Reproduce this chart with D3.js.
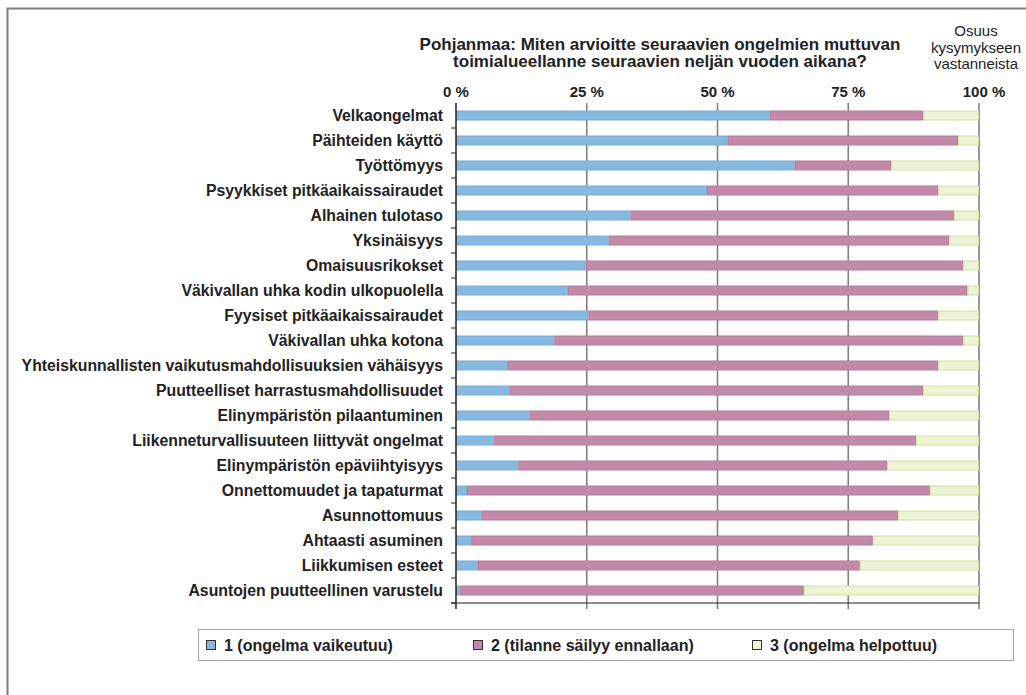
<!DOCTYPE html>
<html>
<head>
<meta charset="utf-8">
<script src="https://cdn.jsdelivr.net/npm/d3@7/dist/d3.min.js"></script>
<style>
  html, body { margin: 0; padding: 0; background: #fff; }
  svg { display: block; font-family: "Liberation Sans", Arial, sans-serif; }
</style>
</head>
<body>
<svg id="chart" width="1026" height="695"></svg>
<script>
  /* Data */
  var categories = [
    'Velkaongelmat', 'Päihteiden käyttö', 'Työttömyys', 'Psyykkiset pitkäaikaissairaudet',
    'Alhainen tulotaso', 'Yksinäisyys', 'Omaisuusrikokset', 'Väkivallan uhka kodin ulkopuolella',
    'Fyysiset pitkäaikaissairaudet', 'Väkivallan uhka kotona',
    'Yhteiskunnallisten vaikutusmahdollisuuksien vähäisyys', 'Puutteelliset harrastusmahdollisuudet',
    'Elinympäristön pilaantuminen', 'Liikenneturvallisuuteen liittyvät ongelmat',
    'Elinympäristön epäviihtyisyys', 'Onnettomuudet ja tapaturmat', 'Asunnottomuus',
    'Ahtaasti asuminen', 'Liikkumisen esteet', 'Asuntojen puutteellinen varustelu'
  ];
  var worsens  = [60.0, 51.9, 64.7, 48.0, 33.4, 29.2, 24.8, 21.4, 25.3, 18.8, 9.8, 10.3, 14.1, 7.2, 11.9, 2.1, 5.0, 2.9, 4.2, 0.8];
  var same     = [29.3, 44.1, 18.5, 44.2, 61.8, 65.1, 72.2, 76.4, 66.9, 78.2, 82.4, 79.0, 68.7, 80.8, 70.5, 88.5, 79.5, 76.8, 73.0, 65.7];
  var improves = [10.7, 4.0, 16.8, 7.8, 4.8, 5.7, 3.0, 2.2, 7.8, 3.0, 7.8, 10.7, 17.2, 12.0, 17.6, 9.4, 15.5, 20.3, 22.8, 33.5];
  var seriesNames = ['1 (ongelma vaikeutuu)', '2 (tilanne säilyy ennallaan)', '3 (ongelma helpottuu)'];
  var tickValues = [0, 25, 50, 75, 100];
  var titleLines = ['Pohjanmaa: Miten arvioitte seuraavien ongelmien muttuvan',
                    'toimialueellanne seuraavien neljän vuoden aikana?'];
  var noteLines = ['Osuus', 'kysymykseen', 'vastanneista'];

  var fills   = ['#87b9e0', '#c28aa8', '#edf3d6'];
  var strokes = ['#7aaed6', '#b67d9c', '#d4e19c'];
  var FONT = 15.8;

  var svg = d3.select('#chart');

  // outer frame (runs off the right and bottom edge)
  svg.append('rect')
    .attr('x', 7.5).attr('y', 8.5).attr('width', 1030).attr('height', 700)
    .attr('fill', 'none').attr('stroke', '#808080').attr('stroke-width', 2);

  var plot = { left: 456, top: 103, right: 979, bottom: 603 };

  var x  = d3.scaleLinear().domain([0, 100]).range([plot.left, plot.right]);
  var y  = d3.scaleBand().domain(categories).range([plot.top, plot.bottom]).paddingInner(0.6).paddingOuter(0.3);
  var yb = d3.scaleBand().domain(categories).range([plot.top, plot.bottom]);

  /* gridlines */
  svg.append('g').selectAll('line')
    .data(tickValues.slice(1))
    .enter().append('line')
    .attr('x1', function (d) { return x(d); }).attr('x2', function (d) { return x(d); })
    .attr('y1', plot.top).attr('y2', plot.bottom + 6)
    .attr('stroke', '#808080').attr('stroke-width', 1.6);

  /* stacked bars */
  var rows = categories.map(function (c, i) {
    return { cat: c, vals: [worsens[i], same[i], improves[i]] };
  });
  var bars = svg.append('g');
  rows.forEach(function (r) {
    var acc = 0;
    r.vals.forEach(function (v, k) {
      bars.append('rect')
        .attr('x', x(acc) + 0.5)
        .attr('y', y(r.cat) + 0.5)
        .attr('width', Math.max(0, x(acc + v) - x(acc) - 1))
        .attr('height', y.bandwidth() - 1)
        .attr('fill', fills[k])
        .attr('stroke', strokes[k]).attr('stroke-width', 1);
      acc += v;
    });
  });

  /* top axis labels */
  svg.append('g').selectAll('text')
    .data(tickValues)
    .enter().append('text')
    .attr('x', function (d) { return x(d) + (d === 100 ? 5 : 0); })
    .attr('y', 97)
    .attr('text-anchor', 'middle')
    .attr('font-size', 15).attr('font-weight', 'bold').attr('fill', '#222')
    .text(function (d) { return d + ' %'; });

  /* category axis */
  var catAxis = d3.axisLeft(yb).tickSize(0).tickPadding(13);
  var gy = svg.append('g').attr('transform', 'translate(' + plot.left + ',0)').call(catAxis);
  gy.select('.domain').remove();
  gy.selectAll('text')
    .attr('font-size', FONT).attr('font-weight', 'bold').attr('fill', '#222')
    .attr('font-family', '"Liberation Sans", Arial, sans-serif');

  // ticks at the category boundaries
  svg.append('g').selectAll('line')
    .data(categories)
    .enter().append('line')
    .attr('x1', plot.left - 5).attr('x2', plot.left)
    .attr('y1', function (d) { return yb(d) + yb.step(); })
    .attr('y2', function (d) { return yb(d) + yb.step(); })
    .attr('stroke', '#222').attr('stroke-width', 1);

  svg.append('line')
    .attr('x1', plot.left).attr('x2', plot.left)
    .attr('y1', plot.top).attr('y2', plot.bottom + 6)
    .attr('stroke', '#222').attr('stroke-width', 1.5);
  svg.append('line')
    .attr('x1', plot.left - 5).attr('x2', plot.right)
    .attr('y1', plot.bottom).attr('y2', plot.bottom)
    .attr('stroke', '#222').attr('stroke-width', 1.2);

  /* title */
  var title = svg.append('text')
    .attr('text-anchor', 'middle').attr('font-size', 17).attr('font-weight', 'bold').attr('fill', '#222');
  titleLines.forEach(function (t, i) {
    title.append('tspan').attr('x', 660).attr('y', 50 + i * 17).text(t);
  });

  var note = svg.append('text')
    .attr('text-anchor', 'middle').attr('font-size', 15).attr('fill', '#222');
  noteLines.forEach(function (t, i) {
    note.append('tspan').attr('x', 976).attr('y', 36 + i * 16.5).text(t);
  });

  /* legend */
  svg.append('rect')
    .attr('x', 198.5).attr('y', 629.5).attr('width', 815).attr('height', 31)
    .attr('fill', '#fff').attr('stroke', '#a6a6a6').attr('stroke-width', 1);
  var legendX = [206, 473, 752];
  var lg = svg.append('g').selectAll('g')
    .data(seriesNames)
    .enter().append('g')
    .attr('transform', function (d, i) { return 'translate(' + legendX[i] + ',645)'; });
  lg.append('rect')
    .attr('x', 0.5).attr('y', -4.5).attr('width', 9).attr('height', 9)
    .attr('fill', function (d, i) { return fills[i]; })
    .attr('stroke', '#333').attr('stroke-width', 1);
  lg.append('text')
    .attr('x', 18).attr('y', 5.5)
    .attr('font-size', 16).attr('font-weight', 'bold').attr('fill', '#222')
    .text(function (d) { return d; });
</script>
</body>
</html>
